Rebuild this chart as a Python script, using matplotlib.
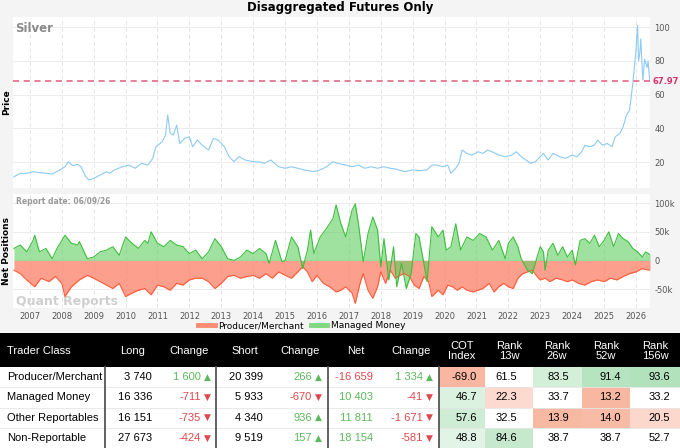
import numpy as np
import matplotlib.pyplot as plt
from matplotlib.lines import Line2D
from matplotlib.patches import Rectangle

# ---- data ----
price_t = [2006.50, 2006.70, 2006.90, 2007.10, 2007.30, 2007.50, 2007.70, 2007.90, 2008.10, 2008.20,
           2008.35, 2008.50, 2008.60, 2008.75, 2008.85, 2009.00, 2009.20, 2009.40, 2009.50, 2009.65,
           2009.90, 2010.10, 2010.30, 2010.50, 2010.70, 2010.85, 2010.95, 2011.15, 2011.25, 2011.32,
           2011.40, 2011.50, 2011.60, 2011.70, 2011.85, 2012.00, 2012.10, 2012.25, 2012.40, 2012.60,
           2012.75, 2012.90, 2013.10, 2013.25, 2013.40, 2013.55, 2013.75, 2014.00, 2014.20, 2014.35,
           2014.55, 2014.80, 2015.00, 2015.20, 2015.40, 2015.60, 2015.90, 2016.10, 2016.30, 2016.50,
           2016.65, 2016.90, 2017.10, 2017.30, 2017.50, 2017.70, 2017.90, 2018.10, 2018.30, 2018.50,
           2018.75, 2019.00, 2019.20, 2019.45, 2019.60, 2019.75, 2019.95, 2020.10, 2020.20, 2020.35,
           2020.45, 2020.55, 2020.70, 2020.85, 2021.05, 2021.20, 2021.35, 2021.50, 2021.70, 2021.90,
           2022.10, 2022.25, 2022.40, 2022.55, 2022.70, 2022.85, 2023.00, 2023.10, 2023.25, 2023.40,
           2023.60, 2023.80, 2024.00, 2024.15, 2024.30, 2024.40, 2024.55, 2024.70, 2024.80, 2024.95,
           2025.10, 2025.25, 2025.35, 2025.50, 2025.60, 2025.70, 2025.80, 2025.85, 2025.90, 2025.95,
           2026.00, 2026.05, 2026.08, 2026.12, 2026.15, 2026.20, 2026.22, 2026.27, 2026.30, 2026.35,
           2026.38, 2026.42, 2026.44]
price_v = [11.3, 13.3, 13.3, 14.3, 13.7, 13.3, 12.9, 14.9, 17.2, 20.2,
           17.8, 18.6, 17.2, 11.3, 9.3, 10.3, 12.3, 14.3, 13.3, 15.3,
           17.2, 18.2, 16.3, 19.2, 18.2, 22.2, 29.1, 32.0, 36.0, 47.8,
           37.0, 36.0, 41.9, 31.0, 34.0, 35.0, 29.0, 33.0, 30.0, 27.0,
           34.0, 33.0, 29.0, 23.0, 20.2, 23.2, 21.2, 20.2, 20.0, 19.2,
           21.2, 17.2, 16.3, 17.2, 16.3, 15.3, 14.3, 15.3, 17.2, 20.2,
           19.2, 18.2, 17.2, 18.2, 16.3, 17.2, 16.3, 17.2, 16.3, 15.7,
           14.3, 15.3, 14.9, 15.3, 18.2, 18.2, 17.2, 18.2, 13.3, 16.3,
           19.2, 27.1, 25.1, 24.1, 26.1, 25.1, 27.1, 26.0, 24.1, 23.2,
           24.1, 26.1, 23.2, 21.2, 19.2, 20.2, 23.2, 25.1, 21.2, 25.1,
           23.2, 22.2, 24.1, 23.2, 26.1, 30.0, 29.0, 30.0, 33.0, 30.0,
           31.0, 29.0, 35.0, 37.0, 41.0, 47.8, 50.8, 58.7, 66.5, 76.4,
           86.0, 101.0, 80.0, 84.3, 93.0, 74.4, 68.5, 81.0, 79.0, 76.0,
           80.0, 70.5, 67.97]
last_price = 67.97

mm_t = [2006.50, 2006.70, 2006.90, 2007.10, 2007.15, 2007.30, 2007.50, 2007.70, 2007.85, 2008.10,
        2008.30, 2008.50, 2008.55, 2008.80, 2009.00, 2009.20, 2009.40, 2009.60, 2009.80, 2010.00,
        2010.20, 2010.40, 2010.60, 2010.70, 2010.80, 2011.00, 2011.20, 2011.40, 2011.60, 2011.80,
        2012.00, 2012.20, 2012.40, 2012.60, 2012.80, 2013.00, 2013.20, 2013.40, 2013.60, 2013.80,
        2014.00, 2014.20, 2014.40, 2014.50, 2014.70, 2014.90, 2015.00, 2015.20, 2015.40, 2015.55,
        2015.70, 2015.80, 2015.90, 2016.10, 2016.30, 2016.50, 2016.60, 2016.75, 2016.90, 2017.10,
        2017.20, 2017.30, 2017.45, 2017.60, 2017.75, 2017.90, 2018.00, 2018.10, 2018.25, 2018.40,
        2018.50, 2018.65, 2018.80, 2018.95, 2019.10, 2019.20, 2019.35, 2019.45, 2019.60, 2019.80,
        2019.95, 2020.05, 2020.20, 2020.35, 2020.50, 2020.70, 2020.90, 2021.10, 2021.30, 2021.50,
        2021.70, 2021.90, 2022.00, 2022.15, 2022.30, 2022.40, 2022.60, 2022.75, 2022.90, 2023.00,
        2023.10, 2023.15, 2023.25, 2023.40, 2023.55, 2023.70, 2023.85, 2024.00, 2024.10, 2024.25,
        2024.40, 2024.55, 2024.70, 2024.85, 2025.00, 2025.15, 2025.30, 2025.45, 2025.60, 2025.75,
        2025.90, 2026.05, 2026.20, 2026.30, 2026.44]
mm_v = [21, 27, 15, 35, 44, 15, 21, 3, 21, 44,
        30, 27, 33, 3, 6, 15, 18, 24, 9, 41,
        30, 21, 35, 30, 50, 30, 24, 35, 27, 24,
        12, 18, 3, 15, 38, 24, 3, 0, 6, 18,
        12, 21, 12, -5, 35, -2, 0, 41, 24, -14,
        18, 53, 12, 41, 56, 73, 97, 64, 41, 88,
        99, 64, -2, 47, 76, 53, -11, 38, -34, 24,
        -46, -5, -49, -23, 47, 41, -5, -37, 59, 41,
        53, 18, 24, 64, 18, 41, 35, 47, 41, 18,
        35, 3, 30, 41, 24, 3, -17, -23, 6, 24,
        15, -17, 18, 30, 9, 24, 6, 18, -8, 35,
        38, 30, 44, 24, 35, 50, 24, 47, 38, 33,
        21, 15, 6, 15, 10.4]

pm_t = [2006.50, 2006.70, 2006.90, 2007.15, 2007.35, 2007.60, 2007.80, 2008.00, 2008.10, 2008.30,
        2008.55, 2008.80, 2009.00, 2009.20, 2009.40, 2009.60, 2009.80, 2010.00, 2010.20, 2010.40,
        2010.60, 2010.80, 2011.00, 2011.20, 2011.40, 2011.60, 2011.80, 2012.00, 2012.20, 2012.40,
        2012.60, 2012.80, 2013.00, 2013.20, 2013.40, 2013.60, 2013.80, 2014.00, 2014.20, 2014.40,
        2014.60, 2014.80, 2015.00, 2015.20, 2015.40, 2015.55, 2015.70, 2015.85, 2016.00, 2016.20,
        2016.40, 2016.60, 2016.75, 2016.90, 2017.10, 2017.20, 2017.35, 2017.45, 2017.60, 2017.75,
        2017.90, 2018.00, 2018.15, 2018.30, 2018.45, 2018.60, 2018.75, 2018.90, 2019.05, 2019.20,
        2019.35, 2019.50, 2019.60, 2019.80, 2019.95, 2020.10, 2020.25, 2020.40, 2020.55, 2020.70,
        2020.90, 2021.05, 2021.20, 2021.40, 2021.55, 2021.70, 2021.85, 2022.00, 2022.15, 2022.30,
        2022.45, 2022.60, 2022.75, 2022.90, 2023.00, 2023.15, 2023.30, 2023.50, 2023.70, 2023.85,
        2024.00, 2024.20, 2024.40, 2024.60, 2024.80, 2025.00, 2025.20, 2025.40, 2025.60, 2025.80,
        2026.00, 2026.20, 2026.30, 2026.44]
pm_v = [-17, -23, -34, -46, -31, -37, -28, -40, -63, -46,
        -34, -26, -31, -37, -43, -49, -40, -63, -57, -52,
        -49, -60, -43, -46, -52, -40, -43, -34, -31, -31,
        -37, -49, -40, -28, -26, -31, -28, -26, -31, -23,
        -31, -20, -26, -31, -20, -11, -20, -37, -26, -40,
        -46, -55, -52, -46, -57, -75, -40, -23, -52, -66,
        -46, -20, -40, -17, -31, -26, -23, -28, -43, -49,
        -28, -37, -63, -52, -60, -43, -46, -52, -46, -52,
        -55, -52, -49, -40, -55, -46, -40, -46, -49, -31,
        -23, -20, -17, -28, -34, -31, -37, -31, -34, -37,
        -34, -40, -43, -37, -34, -37, -31, -34, -28, -23,
        -20, -14, -16, -16.7]

years = list(range(2007, 2027))
price_ticks = [20, 40, 60, 80, 100]
net_ticks = [-50, 0, 50, 100]
net_tick_labels = ['-50k', '0', '50k', '100k']

classes = ['Producer/Merchant', 'Managed Money', 'Other Reportables', 'Non-Reportable']
long_pos = [3740, 16336, 16151, 27673]
long_chg = [1600, -711, -735, -424]
short_pos = [20399, 5933, 4340, 9519]
short_chg = [266, -670, 936, 157]
net_pos = [-16659, 10403, 11811, 18154]
net_chg = [1334, -41, -1671, -581]
cot_index = [-69.0, 46.7, 57.6, 48.8]
rank_13w = [61.5, 22.3, 32.5, 84.6]
rank_26w = [83.5, 33.7, 13.9, 38.7]
rank_52w = [91.4, 13.2, 14.0, 38.7]
rank_156w = [93.6, 33.2, 20.5, 52.7]

# cell shading as seen in the reference
cell_cols = [['#f9b7a2', '#ffffff', '#d3efd8', '#b6e4c0', '#b2e2bc'],
             ['#dcf2e0', '#fcdad0', '#ffffff', '#f8b7a0', '#ffffff'],
             ['#cfecd5', '#ffffff', '#f8b9a3', '#f8bba5', '#fcd7cc'],
             ['#e2f4e5', '#c6e9cd', '#ffffff', '#ffffff', '#ffffff']]

W, H = 680, 448
GREEN_TXT = '#5cb85c'
RED_TXT = '#e0474c'


def fx(x):
    return x / W


def fy(y):
    return 1 - y / H


def fmt(n):
    return '{:,}'.format(n).replace(',', ' ')


fig = plt.figure(figsize=(6.8, 4.48), dpi=100, facecolor='#f4f4f4')

# ---- price panel ----
ax1 = fig.add_axes([fx(13), fy(188), fx(637), 171 / H])
ax1.set_facecolor('white')
ax1.plot(price_t, price_v, color='#8dcaf2', lw=0.8)
ax1.axhline(last_price, color='#e05a7a', lw=1.1, ls=(0, (4, 3)))
ax1.set_xlim(2006.47, 2026.44)
ax1.set_ylim(4.6, 106)
ax1.set_xticks(years)
ax1.set_xticklabels([])
ax1.set_yticks(price_ticks)
ax1.yaxis.tick_right()
ax1.tick_params(axis='both', length=0, labelsize=6, labelcolor='#555555', pad=3)
ax1.grid(axis='x', color='#e4e4e4', ls=(0, (4, 3)), lw=0.7)
ax1.grid(axis='y', color='#ececec', lw=0.7)
for s in ax1.spines.values():
    s.set_visible(False)
ax1.text(1.004, last_price, '{:.2f}'.format(last_price), transform=ax1.get_yaxis_transform(),
         color='#d6336c', fontsize=6, fontweight='bold', va='center', ha='left')
ax1.text(0.004, 0.97, 'Silver', transform=ax1.transAxes, fontsize=8.5, fontweight='bold',
         color='#8a8a8a', va='top', ha='left')

# ---- net positions panel ----
ax2 = fig.add_axes([fx(13), fy(308), fx(637), 114 / H])
ax2.set_facecolor('white')
ax2.fill_between(pm_t, pm_v, 0, color='#fb7f66', alpha=0.75, lw=0)
ax2.plot(pm_t, pm_v, color='#ff5b3a', lw=0.8)
ax2.fill_between(mm_t, mm_v, 0, color='#5fcf5f', alpha=0.6, lw=0)
ax2.plot(mm_t, mm_v, color='#3cbf3c', lw=0.8)
ax2.set_xlim(2006.47, 2026.44)
ax2.set_ylim(-83, 116)
ax2.set_xticks(years)
ax2.set_xticklabels([str(y) for y in years])
ax2.set_yticks(net_ticks)
ax2.set_yticklabels(net_tick_labels)
ax2.yaxis.tick_right()
ax2.tick_params(axis='both', length=0, labelsize=6, labelcolor='#555555', pad=3)
ax2.grid(axis='x', color='#e4e4e4', ls=(0, (4, 3)), lw=0.7)
ax2.grid(axis='y', color='#ececec', lw=0.7)
ax2.set_axisbelow(True)
for s in ax2.spines.values():
    s.set_visible(False)
ax2.text(0.004, 0.97, 'Report date: 06/09/26', transform=ax2.transAxes, fontsize=5.5,
         fontweight='bold', color='#999999', va='top', ha='left')
ax2.text(0.004, 0.0, 'Quant Reports', transform=ax2.transAxes, fontsize=9,
         fontweight='bold', color='#cfcfcf', va='bottom', ha='left', zorder=0.5)

fig.text(0.5, fy(8), 'Disaggregated Futures Only', ha='center', va='center',
         fontsize=8.5, fontweight='bold')
fig.text(fx(7), fy(102), 'Price', rotation=90, ha='center', va='center', fontsize=6.5, fontweight='bold')
fig.text(fx(7), fy(251), 'Net Positions', rotation=90, ha='center', va='center', fontsize=6.5,
         fontweight='bold')

handles = [Line2D([], [], color='#fb8c74', lw=3.5), Line2D([], [], color='#7fd97f', lw=3.5)]
fig.legend(handles, ['Producer/Merchant', 'Managed Money'], loc='center',
           bbox_to_anchor=(fx(302), fy(326)), ncol=2, frameon=False, fontsize=6.5,
           handlelength=1.8, handletextpad=0.4, columnspacing=0.8)

# ---- table ----
tf = fig.transFigure
tfont = 'Liberation Sans'
fig.patches.append(Rectangle((0, fy(367)), 1, (367 - 333) / H, transform=tf,
                             facecolor='black', edgecolor='none', zorder=0))
fig.patches.append(Rectangle((0, 0), 1, fy(367), transform=tf,
                             facecolor='white', edgecolor='none', zorder=0))

heads = [('Trader Class', 7, 'left'), ('Long', 133, 'center'), ('Change', 189, 'center'),
         ('Short', 245, 'center'), ('Change', 300, 'center'), ('Net', 356, 'center'),
         ('Change', 411, 'center'), ('COT\nIndex', 462, 'center'), ('Rank\n13w', 509, 'center'),
         ('Rank\n26w', 557, 'center'), ('Rank\n52w', 606, 'center'), ('Rank\n156w', 655, 'center')]
for txt, x, ha in heads:
    fig.text(fx(x), fy(351), txt, color='white', fontsize=8, ha=ha, va='center',
             family=tfont, linespacing=1.05)

row_top = 367
row_h = 20.3
cell_x = [439, 485, 533, 582, 630, 680]
rank_cols = [cot_index, rank_13w, rank_26w, rank_52w, rank_156w]
rank_right = [477, 517, 569, 621, 670]


def chg_text(val, xr):
    col = GREEN_TXT if val > 0 else RED_TXT
    tri = '\u25b2' if val > 0 else '\u25bc'
    fig.text(fx(xr), yc, fmt(val), color=col, fontsize=8, ha='right', va='center', family=tfont)
    fig.text(fx(xr + 3), yc, tri, color=col, fontsize=6.5, ha='left', va='center',
             family='DejaVu Sans')


for i in range(len(classes)):
    y0 = row_top + i * row_h
    yc = fy(y0 + row_h / 2)
    for j in range(5):
        fig.patches.append(Rectangle((fx(cell_x[j]), fy(y0 + row_h)), fx(cell_x[j + 1] - cell_x[j]),
                                     row_h / H, transform=tf, facecolor=cell_cols[i][j],
                                     edgecolor='none', zorder=1))
    if i > 0:
        fig.lines.append(Line2D([0, 1], [fy(y0), fy(y0)], transform=tf, color='#e6e6e6', lw=0.6))
    fig.text(fx(7), yc, classes[i], fontsize=8, ha='left', va='center', family=tfont)
    fig.text(fx(152), yc, fmt(long_pos[i]), fontsize=8, ha='right', va='center', family=tfont)
    chg_text(long_chg[i], 201)
    fig.text(fx(263), yc, fmt(short_pos[i]), fontsize=8, ha='right', va='center', family=tfont)
    chg_text(short_chg[i], 312)
    fig.text(fx(373), yc, fmt(net_pos[i]), fontsize=8, ha='right', va='center', family=tfont,
             color=GREEN_TXT if net_pos[i] > 0 else RED_TXT)
    chg_text(net_chg[i], 423)
    for j in range(5):
        fig.text(fx(rank_right[j]), yc, '{:.1f}'.format(rank_cols[j][i]), fontsize=8,
                 ha='right', va='center', family=tfont)

for xd in [105, 216, 328, 439]:
    fig.lines.append(Line2D([fx(xd), fx(xd)], [0, fy(367)], transform=tf, color='#555555', lw=1.3))

fig.savefig('out.png', dpi=100, facecolor=fig.get_facecolor())
